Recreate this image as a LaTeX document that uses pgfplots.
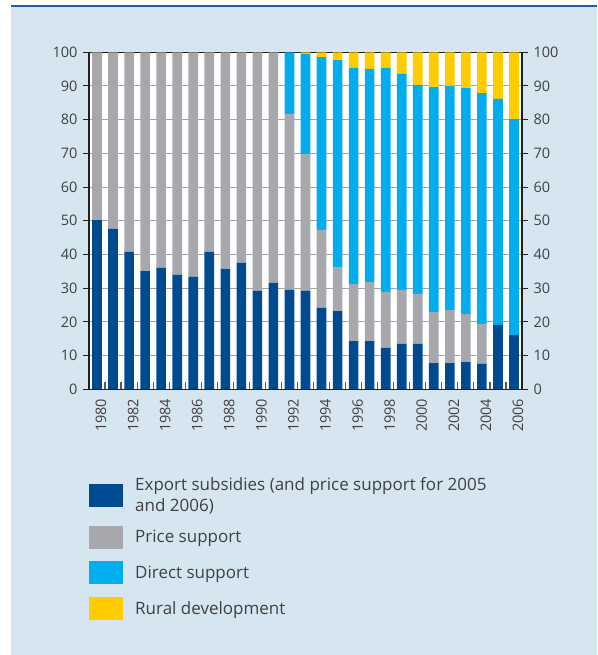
\documentclass[border=0pt]{standalone}
\usepackage{fontspec}
\setmainfont{Open Sans}
\usepackage{pgfplots}
\usepackage{pgfplotstable}
\pgfplotsset{compat=1.18}

\definecolor{panel}{HTML}{D5E6F0}
\definecolor{topline}{HTML}{1F5FA8}
\definecolor{expblue}{HTML}{004A8F}
\definecolor{pricegray}{HTML}{A7A8AC}
\definecolor{directblue}{HTML}{00AEEF}
\definecolor{ruralyellow}{HTML}{FFCC00}
\definecolor{txt}{HTML}{404040}
\definecolor{axline}{HTML}{231F20}
\definecolor{gridgray}{HTML}{A6A6A6}

% shares in percent, 0 = 1980 ... 26 = 2006
\pgfplotstableread{
x  exp   price  direct  rural
0  50.2  49.8   0       0
1  47.6  52.4   0       0
2  40.8  59.2   0       0
3  35.1  64.9   0       0
4  36.0  64.0   0       0
5  34.0  66.0   0       0
6  33.4  66.6   0       0
7  40.8  59.2   0       0
8  35.7  64.3   0       0
9  37.6  62.4   0       0
10 29.2  70.8   0       0
11 31.6  68.4   0       0
12 29.5  52.2   18.3    0
13 29.2  40.6   29.8    0.4
14 24.2  23.1   51.3    1.4
15 23.2  12.9   61.6    2.3
16 14.3  17.0   64.1    4.6
17 14.3  17.5   63.3    4.9
18 12.3  16.6   66.5    4.6
19 13.5  16.0   64.2    6.3
20 13.5  14.8   62.0    9.7
21 7.8   15.1   66.8    10.3
22 7.8   15.7   66.5    10.0
23 8.1   14.3   67.0    10.6
24 7.6   11.8   68.5    12.1
25 19.1  0      67.1    13.8
26 16.1  0      64.1    19.8
}\shares

\pgfplotsset{
  chartbase/.style={
    at={(89pt,265.7pt)}, anchor=south west,
    scale only axis, width=433pt, height=337pt,
    xmin=-0.5, xmax=26.5, ymin=0, ymax=100,
    axis line style={axline, line width=1.2pt},
    tick style={axline, line width=1pt},
    major tick length=6pt,
    ytick={0,10,...,100},
    /pgf/number format/assume math mode=true,
    ticklabel style={font=\fontsize{14.5}{17}\selectfont, text=txt},
  },
  swatch/.style={legend image code/.code={\fill[##1, draw=none] (0pt,-11.5pt) rectangle (34pt,11.5pt);}},
}

\begin{document}
\begin{tikzpicture}
\useasboundingbox (0,0) rectangle (597pt,655pt);
\fill[panel] (11pt,0) rectangle (597pt,649pt);
\draw[topline, line width=2pt] (11pt,649pt) -- (597pt,649pt);

\begin{axis}[chartbase,
  axis background/.style={fill=white},
  ybar stacked, bar width=0.6,
  ymajorgrids, grid style={gridgray, line width=1pt},
  ytick pos=left, tick align=outside,
  yticklabel style={xshift=-2pt},
  xtick={0,2,...,26},
  xticklabels={1980,1982,1984,1986,1988,1990,1992,1994,1996,1998,2000,2002,2004,2006},
  xtick style={draw=none},
  xticklabel style={rotate=90, anchor=east, yshift=-4pt},
  legend cell align=left,
  legend style={at={(0,-0.26)}, anchor=north west, draw=none, fill=none,
    inner sep=0pt, row sep=12.5pt, column sep=12pt,
    font=\fontsize{17}{21.7}\selectfont, text=txt,
    nodes={inner sep=0pt, align=left}},
]
\addplot[fill=expblue, draw=none, swatch] table[x=x, y=exp] {\shares};
\addplot[fill=pricegray, draw=none, swatch] table[x=x, y=price] {\shares};
\addplot[fill=directblue, draw=none, swatch] table[x=x, y=direct] {\shares};
\addplot[fill=ruralyellow, draw=none, swatch] table[x=x, y=rural] {\shares};
\legend{Export subsidies (and price support for 2005\\and 2006), Price support, Direct support, Rural development}
\end{axis}

% right-hand scale
\begin{axis}[chartbase,
  axis x line=none, axis y line*=right,
  tick align=outside,
  yticklabel style={xshift=2pt},
]
\end{axis}

% small ticks between the bars
\begin{axis}[chartbase,
  axis y line=none, axis x line*=bottom,
  xtick={0.5,1.5,...,25.5}, xticklabels={},
  tick align=inside,
  tick style={black!65, line width=1.2pt},
  major tick length=7pt,
]
\end{axis}
\end{tikzpicture}
\end{document}
